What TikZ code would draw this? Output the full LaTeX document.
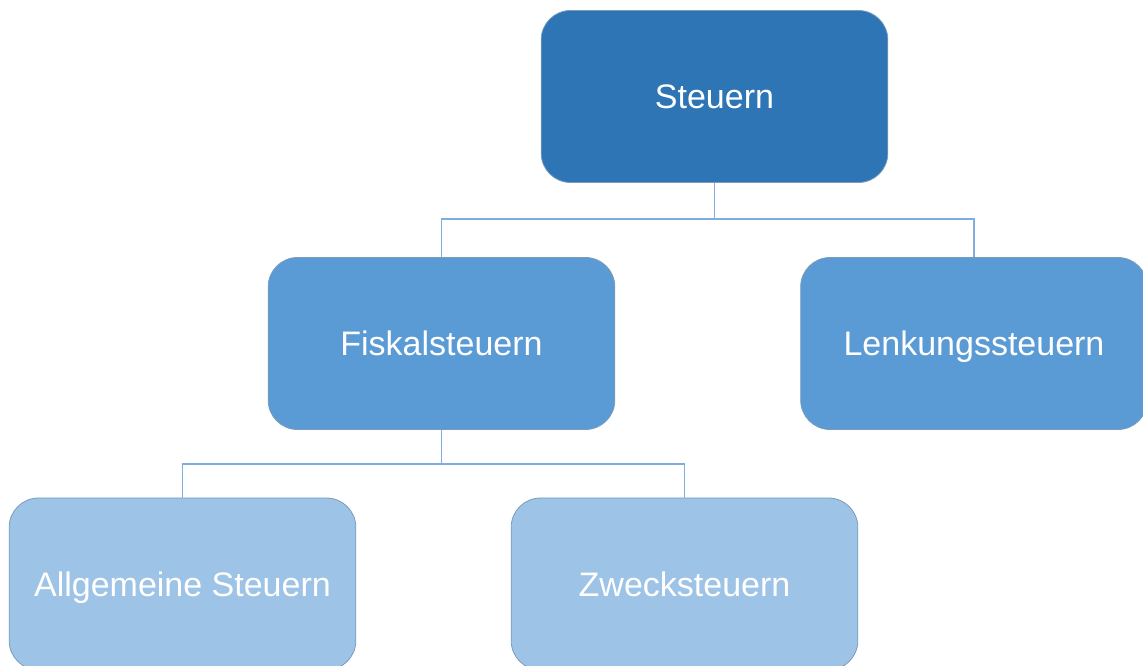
\documentclass[tikz,border=0pt]{standalone}
\usepackage{fontspec}
\setmainfont{Liberation Sans}
\definecolor{topblue}{HTML}{2E75B6}
\definecolor{midblue}{HTML}{5B9BD5}
\definecolor{lowblue}{HTML}{9DC3E6}
\definecolor{edgeblue}{HTML}{41719C}
\definecolor{lineblue}{HTML}{7EADDE}
\tikzset{
  taxbox/.style={draw=edgeblue!70, line width=0.6pt, rounded corners=22pt,
    minimum width=260pt, minimum height=129pt, text=white, text height=18.4pt, text depth=0pt,
    font=\fontsize{25.5}{30}\selectfont},
  conn/.style={draw=lineblue, line width=1.1pt}
}
\begin{document}
\begin{tikzpicture}[x=0.75pt,y=-0.75pt]
        \useasboundingbox (0,0) rectangle (1143,666);
        \clip (0,0) rectangle (1143,666);
        \node[taxbox, fill=topblue] (steuern) at (714.5,96.5) {Steuern};
        \node[taxbox, fill=midblue] (fiskal) at (441.5,343.5) {Fiskalsteuern};
        \node[taxbox, fill=midblue] (lenkung) at (974,343.5) {Lenkungssteuern};
        \node[taxbox, fill=lowblue] (allgemein) at (182.5,584) {Allgemeine Steuern};
        \node[taxbox, fill=lowblue] (zweck) at (684.5,584) {Zwecksteuern};
        \draw[conn] (steuern.south) -- ++(0,36) -| (fiskal.north);
        \draw[conn] (steuern.south) -- ++(0,36) -| (lenkung.north);
        \draw[conn] (fiskal.south) -- ++(0,34) -| (allgemein.north);
        \draw[conn] (fiskal.south) -- ++(0,34) -| (zweck.north);
    \end{tikzpicture}
\end{document}
